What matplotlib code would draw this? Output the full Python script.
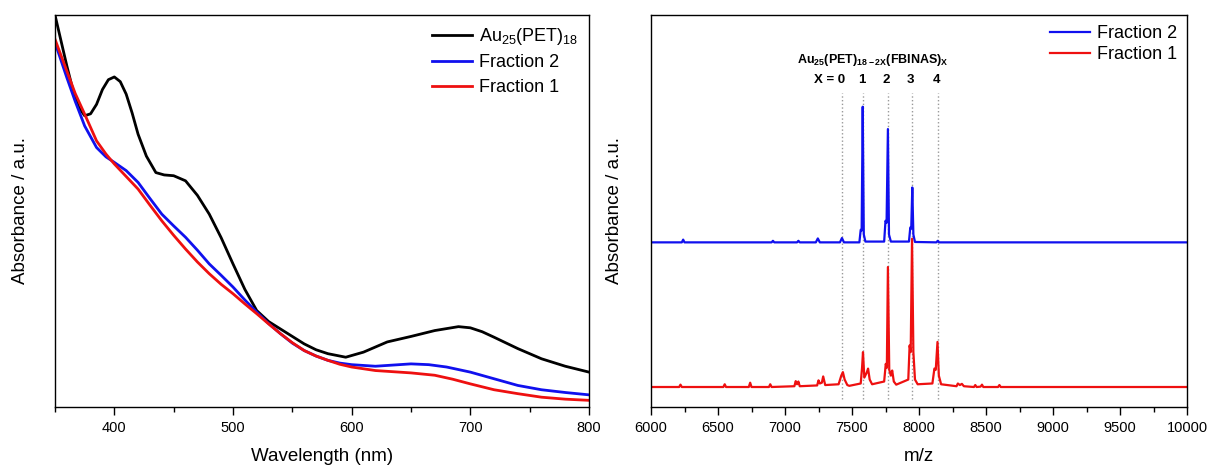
import numpy as np
import matplotlib
matplotlib.use('Agg')
import matplotlib.pyplot as plt

plt.rcParams['font.family'] = ['Liberation Sans', 'DejaVu Sans']
plt.rcParams['mathtext.fontset'] = 'custom'
plt.rcParams['mathtext.rm'] = 'Liberation Sans'
plt.rcParams['mathtext.bf'] = 'Liberation Sans:bold'

# --- UV-vis spectra (left panel) --- #
wl_black = [350, 355, 360, 365, 370, 375, 380, 385, 390, 395, 400, 405, 410, 415, 420, 427, 435, 442, 450, 460,
            470, 480, 490, 500, 510, 520, 530, 540, 550, 560, 570, 580, 595, 610, 630, 650, 670, 690, 700,
            710, 720, 740, 760, 780, 800]
abs_black = [1.000, 0.935, 0.870, 0.810, 0.765, 0.743, 0.748, 0.772, 0.810, 0.835, 0.842, 0.830, 0.798, 0.750,
             0.696, 0.640, 0.598, 0.592, 0.590, 0.577, 0.540, 0.492, 0.432, 0.365, 0.300, 0.246, 0.218, 0.199,
             0.180, 0.161, 0.146, 0.136, 0.127, 0.140, 0.166, 0.180, 0.195, 0.205, 0.202, 0.192, 0.178, 0.149,
             0.123, 0.104, 0.089]

wl_blue = [350, 360, 367, 375, 385, 393, 400, 410, 420, 430, 440, 450, 460, 470, 480, 490, 500, 510, 520, 530,
           540, 550, 560, 570, 580, 590, 600, 620, 650, 665, 680, 700, 720, 740, 760, 780, 800]
abs_blue = [0.930, 0.840, 0.780, 0.717, 0.662, 0.638, 0.624, 0.603, 0.573, 0.532, 0.492, 0.462, 0.433, 0.400,
            0.365, 0.336, 0.306, 0.273, 0.242, 0.213, 0.187, 0.163, 0.144, 0.130, 0.119, 0.112, 0.108, 0.104,
            0.110, 0.108, 0.102, 0.089, 0.072, 0.055, 0.044, 0.037, 0.031]

wl_red = [350, 360, 367, 375, 385, 393, 400, 410, 420, 430, 440, 450, 460, 470, 480, 490, 500, 510, 520, 530,
          540, 550, 560, 570, 580, 590, 600, 620, 650, 670, 685, 700, 720, 740, 760, 780, 800]
abs_red = [0.938, 0.857, 0.800, 0.747, 0.679, 0.645, 0.620, 0.588, 0.556, 0.515, 0.475, 0.438, 0.403, 0.370,
           0.340, 0.313, 0.289, 0.263, 0.238, 0.212, 0.187, 0.164, 0.144, 0.130, 0.119, 0.109, 0.102, 0.093,
           0.087, 0.081, 0.071, 0.059, 0.044, 0.034, 0.025, 0.020, 0.017]

# --- Mass spectra (right panel) --- #
mz_blue = [6000, 6230, 6240, 6250, 6900, 6910, 6920, 7090, 7100, 7110, 7230, 7245, 7260, 7410, 7425, 7440,
           7555, 7565, 7572, 7580, 7588, 7600, 7740, 7750, 7758, 7768, 7776, 7790, 7925, 7935, 7942, 7950,
           7958, 7970, 8130, 8140, 8150, 10000]
int_blue = [0.420, 0.420, 0.427, 0.420, 0.420, 0.424, 0.420, 0.420, 0.424, 0.420, 0.420, 0.430, 0.420, 0.420,
            0.431, 0.420, 0.420, 0.452, 0.450, 0.766, 0.440, 0.422, 0.422, 0.475, 0.470, 0.709, 0.440, 0.422,
            0.422, 0.458, 0.455, 0.560, 0.440, 0.421, 0.420, 0.424, 0.420, 0.420]

mz_red = [6000, 6210, 6220, 6230, 6540, 6550, 6560, 6730, 6740, 6750, 6880, 6890, 6900, 7070, 7080, 7090, 7100,
          7110, 7240, 7250, 7260, 7275, 7285, 7300, 7400, 7420, 7432, 7445, 7465, 7480, 7565, 7575, 7582, 7592,
          7610, 7620, 7632, 7650, 7740, 7752, 7760, 7768, 7778, 7790, 7800, 7812, 7830, 7920, 7930, 7938, 7948,
          7958, 7970, 7990, 8100, 8115, 8125, 8138, 8148, 8165, 8280, 8290, 8305, 8320, 8335, 8410, 8420, 8430,
          8460, 8470, 8480, 8590, 8600, 8610, 10000]
int_red = [0.051, 0.051, 0.057, 0.051, 0.051, 0.058, 0.051, 0.051, 0.062, 0.051, 0.051, 0.058, 0.051, 0.053,
           0.066, 0.058, 0.065, 0.053, 0.055, 0.068, 0.060, 0.062, 0.078, 0.056, 0.058, 0.080, 0.089, 0.070,
           0.056, 0.054, 0.060, 0.100, 0.140, 0.075, 0.088, 0.098, 0.070, 0.058, 0.065, 0.110, 0.100, 0.357,
           0.095, 0.080, 0.093, 0.065, 0.057, 0.070, 0.157, 0.140, 0.429, 0.140, 0.070, 0.058, 0.060, 0.098,
           0.095, 0.166, 0.080, 0.058, 0.053, 0.060, 0.056, 0.059, 0.053, 0.051, 0.056, 0.051, 0.052, 0.057,
           0.051, 0.051, 0.056, 0.051, 0.051]

# positions of the X = 0..4 species
x_labels = ['X = 0', '1', '2', '3', '4']
x_positions = [7427, 7580, 7766, 7945, 8139]

fig = plt.figure(figsize=(12.08, 4.67), dpi=100)
ax1 = fig.add_axes([55 / 1208, 60 / 467, 534 / 1208, 392 / 467])
ax2 = fig.add_axes([651 / 1208, 60 / 467, 536 / 1208, 392 / 467])

ax1.plot(wl_black, abs_black, color='black', lw=2, label='Au$_{25}$(PET)$_{18}$')
ax1.plot(wl_blue, abs_blue, color='#1010ee', lw=2, label='Fraction 2')
ax1.plot(wl_red, abs_red, color='#ee1010', lw=2, label='Fraction 1')
ax1.set_xlim(350, 800)
ax1.set_ylim(0, 1.0)
ax1.set_xticks([400, 500, 600, 700, 800])
ax1.set_xticks([350, 450, 550, 650, 750], minor=True)
ax1.set_xlabel('Wavelength (nm)', fontsize=13.5)
ax1.legend(loc='upper right', frameon=False, fontsize=13, handlelength=2.2, labelspacing=0.42,
           handletextpad=0.4, borderaxespad=0.2)

ax2.vlines(x_positions, 0.02, 0.80, colors='#999999', linestyles=':', lw=1)
ax2.plot(mz_blue, int_blue, color='#1010ee', lw=1.6, label='Fraction 2')
ax2.plot(mz_red, int_red, color='#ee1010', lw=1.6, label='Fraction 1')
ax2.set_xlim(6000, 10000)
ax2.set_ylim(0, 1.0)
ax2.set_xticks(np.arange(6000, 10001, 500))
ax2.set_xticks(np.arange(6250, 10000, 250), minor=True)
ax2.set_xlabel('m/z', fontsize=13.5)
ax2.legend(loc='upper right', frameon=False, fontsize=13, handlelength=2.2, labelspacing=0.25,
           handletextpad=0.4, borderaxespad=0.15)

ax2.text(7655, 0.885, r'Au$_{\mathbf{25}}$(PET)$_{\mathbf{18-2X}}$(FBINAS)$_{\mathbf{X}}$',
         ha='center', va='center', fontsize=9, fontweight='bold')
for lab, xp in zip(x_labels, x_positions):
    if lab.startswith('X'):
        ax2.text(xp + 25, 0.835, lab, ha='right', va='center', fontsize=9.5, fontweight='bold')
    else:
        ax2.text(xp - 10, 0.835, lab, ha='center', va='center', fontsize=9.5, fontweight='bold')

for ax in (ax1, ax2):
    ax.set_yticks([])
    ax.set_ylabel('Absorbance / a.u.', fontsize=13.5)
    ax.tick_params(axis='x', which='major', direction='out', length=6, width=1, labelsize=10.5, pad=4)
    ax.tick_params(axis='x', which='minor', direction='out', length=3.5, width=1)
    for sp in ax.spines.values():
        sp.set_linewidth(1)

ax1.yaxis.set_label_coords(-0.049, 0.5)
ax2.yaxis.set_label_coords(-0.052, 0.5)
ax1.xaxis.set_label_coords(0.5, -0.105)
ax2.xaxis.set_label_coords(0.5, -0.105)

fig.savefig('out.png', dpi=100)
